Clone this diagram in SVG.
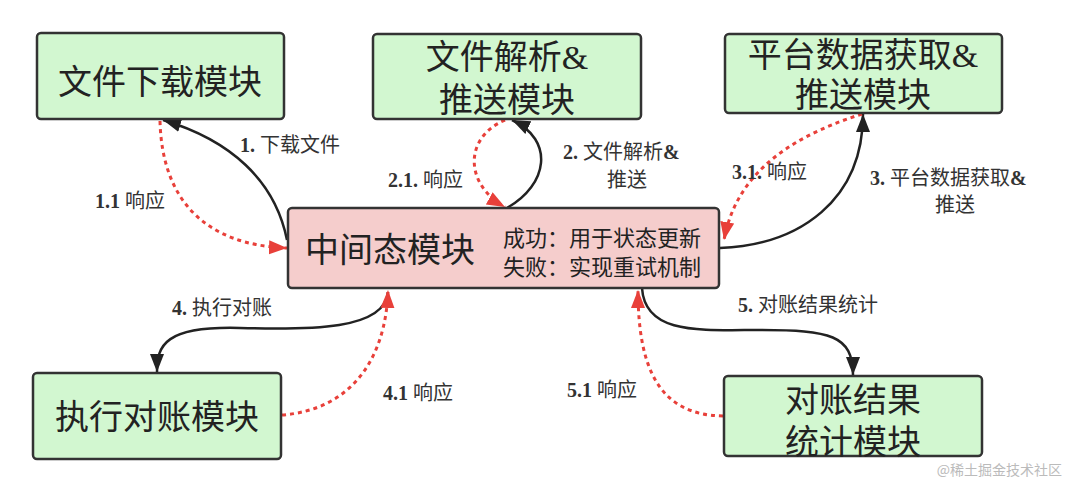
<svg xmlns="http://www.w3.org/2000/svg" width="1080" height="492" viewBox="0 0 1080 492">
<style>
.box{stroke:#333;stroke-width:2.5}
.g{fill:#d2f7d0}
.p{fill:#f5cdcc}
.big{font-family:"Liberation Serif","Noto Sans CJK SC",serif;font-size:34px;fill:#222;text-anchor:middle}
.mid{font-family:"Liberation Serif","Noto Sans CJK SC",serif;font-size:22px;fill:#222}
.lbl{font-family:"Liberation Serif","Noto Sans CJK SC",serif;font-size:20px;fill:#333}
.b{font-weight:bold}
.solid{fill:none;stroke:#222;stroke-width:2.5}
.dot{fill:none;stroke:#e8403a;stroke-width:3;stroke-dasharray:4 4}
</style>
<defs>
<marker id="ab" markerUnits="userSpaceOnUse" markerWidth="20" markerHeight="16" refX="18" refY="7" orient="auto"><path d="M0,0 L18,7 L0,14 Z" fill="#222"/></marker>
<marker id="ar" markerUnits="userSpaceOnUse" markerWidth="20" markerHeight="16" refX="18" refY="7" orient="auto"><path d="M0,0 L18,7 L0,14 Z" fill="#e8403a"/></marker>
</defs>
<rect width="1080" height="492" fill="#fff"/>
<g id="edges">
<path class="solid" d="M287,240 C275,180 230,140 163,120" marker-end="url(#ab)"/>
<path class="dot" d="M160,121 C162,200 205,245 287,248" marker-end="url(#ar)"/>
<path class="solid" d="M507,208 C548,185 555,140 512,120" marker-end="url(#ab)"/>
<path class="dot" d="M505,120 C463,138 465,185 505,207" marker-end="url(#ar)"/>
<path class="solid" d="M720,248 C800,245 863,200 863,114" marker-end="url(#ab)"/>
<path class="dot" d="M862,114 C780,140 735,180 724,240" marker-end="url(#ar)"/>
<path class="solid" d="M388,292 C385,330 310,330 240,328 C165,326 157,345 157,372" marker-end="url(#ab)"/>
<path class="dot" d="M282,415 C350,410 386,360 388,290" marker-end="url(#ar)"/>
<path class="solid" d="M642,288 C645,335 700,330 760,330 C830,330 853,335 853,375" marker-end="url(#ab)"/>
<path class="dot" d="M723,416 C660,415 638,370 638,290" marker-end="url(#ar)"/>
<text class="lbl" x="240" y="152"><tspan class="b">1.</tspan> 下载文件</text>
<text class="lbl" x="95" y="208"><tspan class="b">1.1</tspan> 响应</text>
<text class="lbl" x="563" y="159"><tspan class="b">2.</tspan> 文件解析<tspan class="b">&amp;</tspan></text>
<text class="lbl" x="627" y="187" text-anchor="middle">推送</text>
<text class="lbl" x="388" y="187"><tspan class="b">2.1.</tspan> 响应</text>
<text class="lbl" x="732" y="179"><tspan class="b">3.1.</tspan> 响应</text>
<text class="lbl" x="870" y="185"><tspan class="b">3.</tspan> 平台数据获取<tspan class="b">&amp;</tspan></text>
<text class="lbl" x="955" y="212" text-anchor="middle">推送</text>
<text class="lbl" x="172" y="315"><tspan class="b">4.</tspan> 执行对账</text>
<text class="lbl" x="383" y="400"><tspan class="b">4.1</tspan> 响应</text>
<text class="lbl" x="738" y="312"><tspan class="b">5.</tspan> 对账结果统计</text>
<text class="lbl" x="567" y="397"><tspan class="b">5.1</tspan> 响应</text>
</g>
<g id="n1">
<rect class="box g" x="37" y="33" width="247" height="86" rx="4"/>
<text class="big" x="160" y="94">文件下载模块</text>
</g>
<g id="n2">
<rect class="box g" x="373" y="34" width="268" height="85" rx="4"/>
<text class="big" x="507" y="69">文件解析&amp;</text>
<text class="big" x="507" y="112">推送模块</text>
</g>
<g id="n3">
<rect class="box g" x="725" y="34" width="277" height="79" rx="4"/>
<text class="big" x="863" y="67">平台数据获取&amp;</text>
<text class="big" x="863" y="107">推送模块</text>
</g>
<g id="center">
<rect class="box p" x="288" y="208" width="431" height="80" rx="4"/>
<text class="big" x="390" y="262">中间态模块</text>
<text class="mid" x="503" y="246">成功：用于状态更新</text>
<text class="mid" x="503" y="275">失败：实现重试机制</text>
</g>
<g id="n4">
<rect class="box g" x="33" y="373" width="248" height="86" rx="4"/>
<text class="big" x="157" y="429">执行对账模块</text>
</g>
<g id="n5">
<rect class="box g" x="724" y="376" width="258" height="80" rx="4"/>
<text class="big" x="853" y="412">对账结果</text>
<text class="big" x="853" y="454">统计模块</text>
</g>
<text x="1062" y="475" text-anchor="end" font-family="'Noto Sans CJK SC',sans-serif" font-size="14" fill="#bbb">@稀土掘金技术社区</text>
</svg>
